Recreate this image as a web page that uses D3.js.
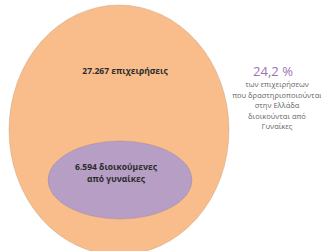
<!DOCTYPE html>
<html>
<head>
<meta charset="utf-8">
<script src="https://cdn.jsdelivr.net/npm/d3@7"></script>
<style>
  body { margin: 0; background: #fff; }
  svg text { font-family: 'Open Sans', 'Noto Sans', sans-serif; }
</style>
</head>
<body>
<div id="chartContainer"></div>
<script>
  // data
  var totalFirms = 27267;
  var womenLed = 6594;
  var shareText = '24,2 %';
  var outerLabel = ['27.267 επιχειρήσεις'];
  var innerLabel = ['6.594 διοικούμενες', 'από γυναίκες'];
  var noteLines = ['των επιχειρήσεων', 'που δραστηριοποιούνται', 'στην Ελλάδα', 'διοικούνται από', 'Γυναίκες'];

  var width = 321, height = 251;

  var svg = d3.select('#chartContainer')
    .append('svg')
      .attr('width', width)
      .attr('height', height);

  // outer = all firms, inner = women-led
  var circles = [
    { n: totalFirms, cx: 119, cy: 130, rx: 110, ry: 125, fill: '#f9bd8b', stroke: '#a88a70' },
    { n: womenLed, cx: 120, cy: 180, rx: 72, ry: 39, fill: '#b69ec4', stroke: '#8f7b8c' }
  ];

  svg.selectAll('ellipse')
    .data(circles)
    .enter()
    .append('ellipse')
      .attr('cx', function (d) { return d.cx; })
      .attr('cy', function (d) { return d.cy; })
      .attr('rx', function (d) { return d.rx; })
      .attr('ry', function (d) { return d.ry; })
      .style('fill', function (d) { return d.fill; })
      .style('stroke', function (d) { return d.stroke; })
      .style('stroke-opacity', 0.6)
      .style('stroke-width', 0.5);

  svg.selectAll('text.outer')
    .data(outerLabel)
    .enter()
    .append('text')
      .attr('class', 'outer')
      .attr('x', 125)
      .attr('y', 74)
      .attr('text-anchor', 'middle')
      .style('font-size', '8.5px')
      .style('font-weight', 'bold')
      .style('fill', '#2b2b2b')
      .text(function (d) { return d; });

  svg.selectAll('text.inner')
    .data(innerLabel)
    .enter()
    .append('text')
      .attr('class', 'inner')
      .attr('x', 116)
      .attr('y', function (d, i) { return 170 + i * 12; })
      .attr('text-anchor', 'middle')
      .style('font-size', '8.5px')
      .style('font-weight', 'bold')
      .style('fill', '#2b2b2b')
      .text(function (d) { return d; });

  svg.append('text')
    .attr('x', 273)
    .attr('y', 76)
    .attr('text-anchor', 'middle')
    .style('font-size', '13px')
    .style('fill', '#9a72b4')
    .text(shareText);

  svg.selectAll('text.note')
    .data(noteLines)
    .enter()
    .append('text')
      .attr('class', 'note')
      .attr('x', 277)
      .attr('y', function (d, i) { return 87 + i * 10.5; })
      .attr('text-anchor', 'middle')
      .style('font-size', '7.5px')
      .style('fill', '#666')
      .text(function (d) { return d; });
</script>
</body>
</html>
